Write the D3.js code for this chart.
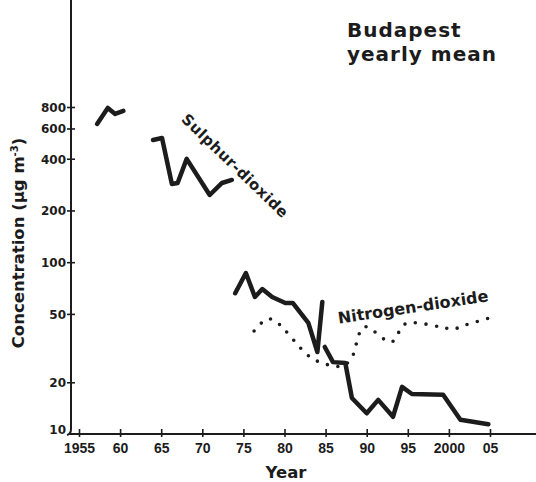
<!DOCTYPE html>
<html>
<head>
<meta charset="utf-8">
<script src="https://cdn.jsdelivr.net/npm/d3@7"></script>
<style>
  html, body { margin: 0; padding: 0; background: #fff; }
  svg { display: block; }
</style>
</head>
<body>
<svg id="chart" width="536" height="482"></svg>
<script>
// Axis ticks
const xTickYears  = [1955, 1960, 1965, 1970, 1975, 1980, 1985, 1990, 1995, 2000, 2005];
const xTickLabels = ["1955", "60", "65", "70", "75", "80", "85", "90", "95", "2000", "05"];
const yTickValues = [10, 20, 50, 100, 200, 400, 600, 800];

// Sulphur-dioxide yearly means (µg m-3), four separate measuring periods
const so2Early = [[1957.2, 638], [1958.5, 790], [1959.4, 729], [1960.4, 759]];
const so2Sixties = [[1964.0, 514], [1965.1, 528], [1966.3, 285], [1967.0, 289], [1968.1, 399],
                    [1970.9, 246], [1972.4, 289], [1973.6, 301]];
const so2Seventies = [[1974.0, 66], [1975.3, 86.5], [1976.4, 62.7], [1977.3, 69.8], [1978.5, 62.7],
                      [1980.1, 57.9], [1981.0, 57.9], [1982.9, 44.3], [1984.0, 30], [1984.6, 58.7]];
const so2Late = [[1984.9, 32.1], [1985.9, 26.2], [1987.4, 25.9], [1988.2, 16.2], [1990.0, 13.2],
                 [1991.4, 15.8], [1993.2, 12.6], [1994.3, 18.8], [1995.5, 17.1], [1999.3, 16.9],
                 [2001.4, 12.1], [2004.8, 11.4]];

// Nitrogen-dioxide yearly means (µg m-3)
const no2 = [[1976.3, 39.8], [1977.9, 46.7], [1979.0, 44.9], [1983.1, 28.1], [1985.4, 25.2],
             [1987.0, 24.9], [1988.1, 27.3], [1989.7, 42.0], [1993.0, 34.3], [1994.7, 43.7],
             [1999.0, 42.0], [2000.5, 40.8], [2002.0, 43.1], [2004.9, 47.3]];

const ink = "#1c1c1c";
const heavy = "'DejaVu Sans', 'Liberation Sans', sans-serif";

const svg = d3.select("#chart");

const x = d3.scaleLinear().domain([1955, 2005]).range([79, 490]);
const y = d3.scaleLog().domain([10, 800]).range([434, 107]);

// Axis lines: tall vertical axis curling into the horizontal one
svg.append("path")
  .attr("d", `M71,0 V429 Q71,434 67,435 M69,${y(10)} H536`)
  .attr("fill", "none")
  .attr("stroke", ink)
  .attr("stroke-width", 2);

// Y axis (log)
const gy = svg.append("g")
  .attr("transform", "translate(71,0)")
  .call(d3.axisLeft(y).tickValues(yTickValues).tickFormat(d3.format("d")).tickSize(0).tickPadding(5));
gy.select(".domain").remove();
gy.selectAll(".tick").filter(d => d !== 10)
  .append("line").attr("x1", -4).attr("x2", 4).attr("stroke", ink).attr("stroke-width", 1.6);
gy.selectAll(".tick text")
  .attr("fill", ink)
  .style("font-family", heavy).style("font-weight", "bold").style("font-size", "12px")
  .attr("dy", d => d === 10 ? "-0.05em" : "0.36em");

// X axis (years)
const gx = svg.append("g")
  .attr("transform", `translate(0,${y(10)})`)
  .call(d3.axisBottom(x).tickValues(xTickYears).tickFormat((d, i) => xTickLabels[i]).tickSize(0).tickPadding(9));
gx.select(".domain").remove();
gx.selectAll(".tick")
  .append("line").attr("y1", -5).attr("y2", 3).attr("stroke", ink).attr("stroke-width", 1.6);
gx.selectAll(".tick text")
  .attr("fill", ink)
  .style("font-family", "'Liberation Sans', Arial, sans-serif").style("font-weight", "bold").style("font-size", "14px");

// Nitrogen-dioxide: dotted curve
const no2Line = d3.line().x(d => x(d[0])).y(d => y(d[1])).curve(d3.curveCatmullRom.alpha(0.5));
svg.append("path")
  .datum(no2)
  .attr("d", no2Line)
  .attr("fill", "none")
  .attr("stroke", ink)
  .attr("stroke-width", 3.6)
  .attr("stroke-linecap", "round")
  .attr("stroke-dasharray", "0 10.6");

// Sulphur-dioxide: heavy solid segments
const so2Line = d3.line().x(d => x(d[0])).y(d => y(d[1]));
svg.selectAll("path.so2")
  .data([so2Early, so2Sixties, so2Seventies, so2Late])
  .join("path")
  .attr("class", "so2")
  .attr("d", so2Line)
  .attr("fill", "none")
  .attr("stroke", ink)
  .attr("stroke-width", 4.5)
  .attr("stroke-linejoin", "round")
  .attr("stroke-linecap", "round");

// Series labels
svg.append("text")
  .attr("transform", "translate(235,166) rotate(44)")
  .attr("text-anchor", "middle").attr("dominant-baseline", "central")
  .attr("fill", ink)
  .style("font-family", heavy).style("font-weight", "bold").style("font-size", "15px")
  .style("letter-spacing", "0.5px")
  .text("Sulphur-dioxide");

svg.append("text")
  .attr("transform", "translate(413,307) rotate(-8.5)")
  .attr("text-anchor", "middle").attr("dominant-baseline", "central")
  .attr("fill", ink)
  .style("font-family", heavy).style("font-weight", "bold").style("font-size", "16px")
  .text("Nitrogen-dioxide");

// Title
const title = svg.append("text")
  .attr("fill", ink)
  .style("font-family", heavy).style("font-weight", "bold").style("font-size", "20px")
  .style("letter-spacing", "1px");
title.append("tspan").attr("x", 347).attr("y", 37).text("Budapest");
title.append("tspan").attr("x", 347).attr("y", 61).text("yearly mean");

// Axis titles
const yTitle = svg.append("text")
  .attr("transform", "translate(24,243) rotate(-90)")
  .attr("text-anchor", "middle")
  .attr("fill", ink)
  .style("font-family", heavy).style("font-weight", "bold").style("font-size", "16.5px");
yTitle.append("tspan").text("Concentration (µg m");
yTitle.append("tspan").attr("dy", -6).style("font-size", "10px").text("-3");
yTitle.append("tspan").attr("dy", 6).text(")");

svg.append("text")
  .attr("x", 286).attr("y", 478)
  .attr("text-anchor", "middle")
  .attr("fill", ink)
  .style("font-family", heavy).style("font-weight", "bold").style("font-size", "16.5px")
  .text("Year");
</script>
</body>
</html>
